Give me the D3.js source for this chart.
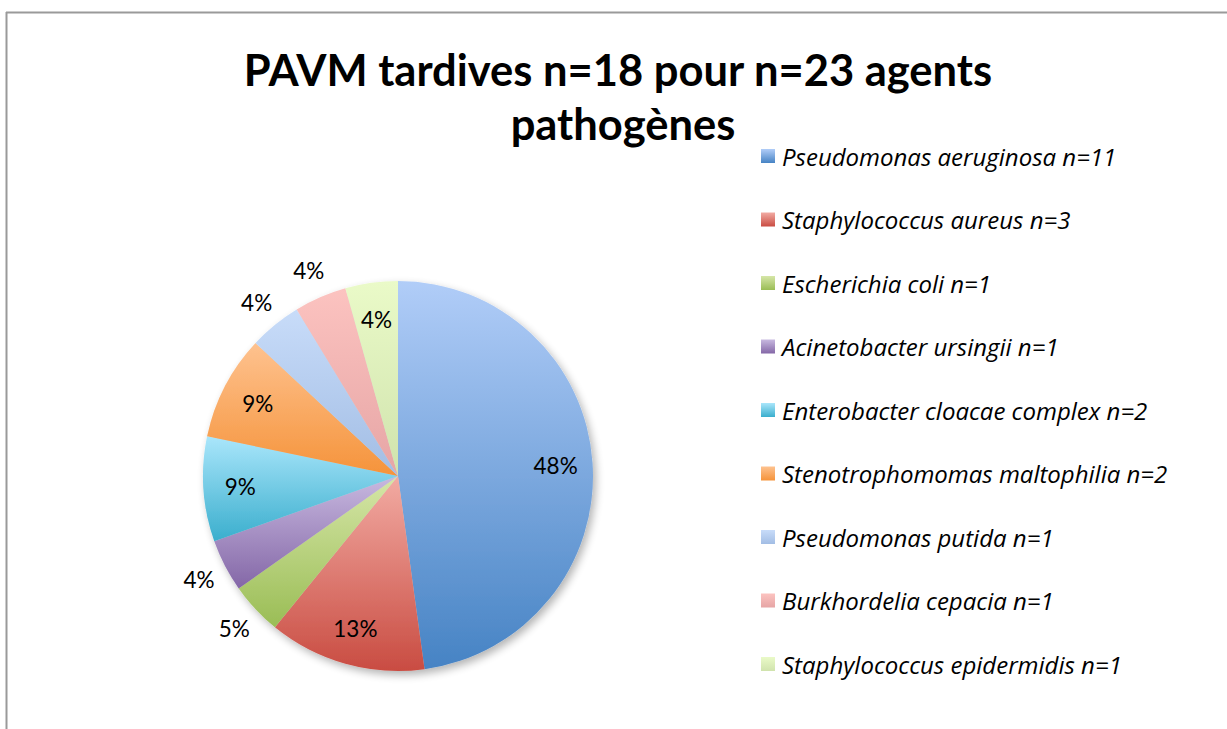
<!DOCTYPE html>
<html><head><meta charset="utf-8">
<script src="https://cdn.jsdelivr.net/npm/d3@7"></script>
<style>html,body{margin:0;padding:0;background:#fff;}svg{display:block;}</style>
</head><body>
<svg id="chart" width="1227" height="729"></svg>
<script>
const categories = ["Pseudomonas aeruginosa n=11","Staphylococcus aureus n=3","Escherichia coli n=1","Acinetobacter ursingii n=1","Enterobacter cloacae complex n=2","Stenotrophomomas maltophilia n=2","Pseudomonas putida n=1","Burkhordelia cepacia n=1","Staphylococcus epidermidis n=1"];
const values = [11,3,1,1,2,2,1,1,1];
const percentLabels = ["48%","13%","5%","4%","9%","9%","4%","4%","4%"];
const labelOutside = [false,false,true,true,false,false,true,true,false];
const colorsLight = ["#b1cdf8","#f2aba3","#d6e6a8","#c8b9e0","#aae6fb","#fec28f","#c8dcf9","#fcc3c0","#eafac8"];
const colorsDark  = ["#4683c4","#c94c42","#9abd55","#8467a7","#3aaecd","#f5933a","#a2bde4","#e6a5a5","#d0e3ad"];
const titleLines = ["PAVM tardives n=18 pour n=23 agents","pathogènes"];

const svg = d3.select("#chart");
const cx = 398, cy = 476, R = 195;

// frame
svg.append("line").attr("x1",6).attr("y1",12.5).attr("x2",1227).attr("y2",12.5).attr("stroke","#9a9a9a").attr("stroke-width",2);
svg.append("line").attr("x1",6.5).attr("y1",12).attr("x2",6.5).attr("y2",729).attr("stroke","#9a9a9a").attr("stroke-width",2);

const defs = svg.append("defs");
categories.forEach((c,i)=>{
  const g = defs.append("linearGradient").attr("id","g"+i).attr("x1",0).attr("y1",0).attr("x2",0).attr("y2",1);
  g.append("stop").attr("offset","0%").attr("stop-color",colorsLight[i]);
  g.append("stop").attr("offset","100%").attr("stop-color",colorsDark[i]);
});
const f = defs.append("filter").attr("id","sh").attr("x","-10%").attr("y","-10%").attr("width","130%").attr("height","130%");
f.append("feGaussianBlur").attr("in","SourceAlpha").attr("stdDeviation",4);
f.append("feOffset").attr("dx",3).attr("dy",4).attr("result","b");
f.append("feComponentTransfer").append("feFuncA").attr("type","linear").attr("slope",0.3);
const m = f.append("feMerge"); m.append("feMergeNode"); m.append("feMergeNode").attr("in","SourceGraphic");

// title
const title = svg.append("text").attr("text-anchor","middle").attr("font-family","Lato, 'Open Sans', sans-serif").attr("font-weight","bold").attr("font-size",43.5).attr("fill","#000");
title.append("tspan").attr("x",618).attr("y",86).text(titleLines[0]);
title.append("tspan").attr("x",623).attr("y",140).text(titleLines[1]);

const pie = d3.pie().sort(null).value(d=>d);
const arcs = pie(values);
const arc = d3.arc().innerRadius(0).outerRadius(R);
const gp = svg.append("g").attr("transform",`translate(${cx},${cy})`);
const slices = gp.append("g").attr("filter","url(#sh)");
slices.selectAll("path").data(arcs).join("path")
  .attr("d",arc).attr("fill",(d,i)=>`url(#g${i})`);

const inArc = d3.arc().innerRadius(158).outerRadius(158);
const outArc = d3.arc().innerRadius(224).outerRadius(224);
gp.selectAll("text.lbl").data(arcs).join("text").attr("class","lbl")
  .attr("transform",(d,i)=>{
    const p = (labelOutside[i]?outArc:inArc).centroid(d);
    return `translate(${p[0]},${p[1]})`;
  })
  .attr("text-anchor","middle").attr("dominant-baseline","central")
  .attr("font-family","Lato, sans-serif").attr("font-size",22.5).attr("fill","#000")
  .text((d,i)=>percentLabels[i]);

// legend
const ly = d3.scalePoint().domain(categories).range([156,664]);
const lg = svg.append("g").selectAll("g").data(categories).join("g")
  .attr("transform",d=>`translate(761,${ly(d)})`);
lg.append("rect").attr("x",0).attr("y",-7).attr("width",14).attr("height",14).attr("fill",(d,i)=>`url(#g${i})`);
lg.append("text").attr("x",21).attr("y",0).attr("dominant-baseline","central")
  .attr("font-family","'Open Sans', sans-serif").attr("font-style","italic").attr("font-size",24).attr("fill","#000")
  .text(d=>d);
</script>
</body></html>
